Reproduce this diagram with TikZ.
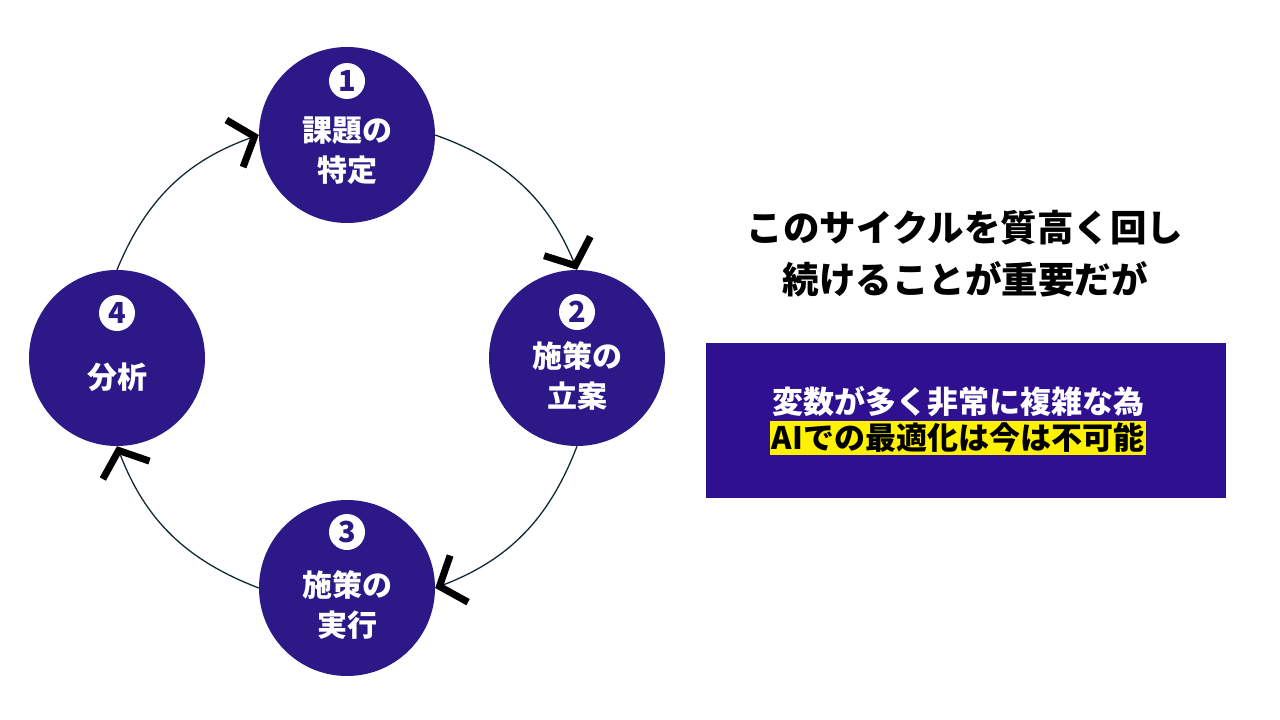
\documentclass[tikz,border=0pt]{standalone}
\usepackage{fontspec}
\setmainfont{Noto Sans CJK JP}
\usetikzlibrary{arrows.meta}
\definecolor{circ}{RGB}{44,24,134}
\definecolor{boxc}{RGB}{46,16,145}
\definecolor{lnc}{RGB}{20,40,50}
\tikzset{
 stage/.style={circle, fill=circ, minimum size=176pt, inner sep=0pt},
 badge/.style={circle, fill=white, minimum size=36pt, inner sep=0pt, text=circ, font=\fontsize{29}{29}\selectfont\bfseries},
 lbl/.style={text=white, align=center, font=\fontsize{30}{40}\selectfont\bfseries},
 flow/.style={draw=lnc, line width=1.3pt, -{Straight Barb[length=21pt,width=50pt,line width=7pt,color=black]}, bend left=24},
}
\begin{document}
\begin{tikzpicture}[x=1pt,y=-1pt]
\useasboundingbox[fill=white] (0,0) rectangle (1280,720);
\node[stage] (c1) at (347,135) {};
\node[stage] (c2) at (577,358) {};
\node[stage] (c3) at (347,588) {};
\node[stage] (c4) at (117,358) {};
\node[badge] (b1) at (347,81) {1};
\node[badge] (b2) at (577,312) {2};
\node[badge] (b3) at (347,532) {3};
\node[badge] (b4) at (117,313) {4};
\node[lbl] (t1) at (347,151) {課題の\\特定};
\node[lbl] (t2) at (577,376) {施策の\\立案};
\node[lbl] (t3) at (347,605) {施策の\\実行};
\node[lbl] (t4) at (117,377) {分析};
\draw[flow] (c1.east) to (c2.north);
\draw[flow] (c2.south) to (c3.east);
\draw[flow] (c3.west) to (c4.south);
\draw[flow] (c4.north) to (c1.west);
\node[align=center, font=\fontsize{36.5}{52}\selectfont\bfseries] (msg) at (965,254) {このサイクルを質高く回し\\続けることが重要だが};
\node[fill=boxc, minimum width=520pt, minimum height=155pt, inner sep=0pt] (box) at (966,420.5) {};
\node[text=white, font=\fontsize{31}{31}\selectfont\bfseries] (l1) at (958,402) {変数が多く非常に複雑な為};
\node[fill=yellow, text=black, inner sep=2pt, font=\fontsize{31}{31}\selectfont\bfseries] (l2) at (958,438) {AIでの最適化は今は不可能};
\end{tikzpicture}
\end{document}
